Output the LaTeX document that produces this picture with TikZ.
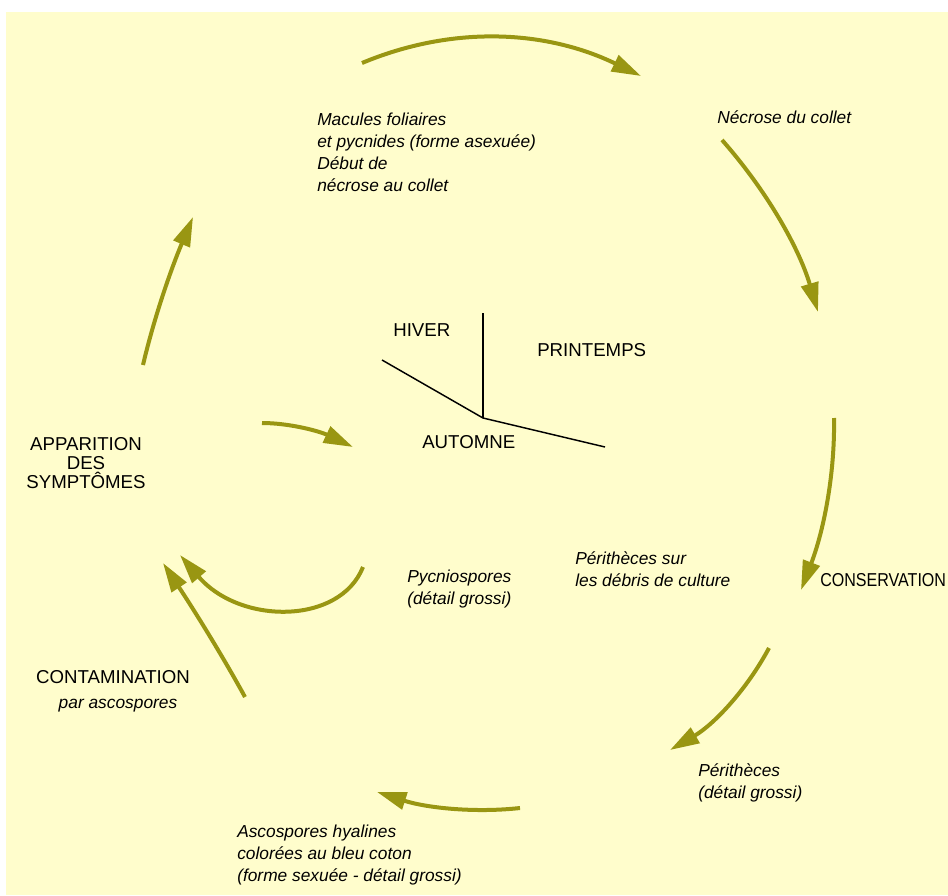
\documentclass[tikz,border=0pt]{standalone}
\usepackage{fontspec}
\usepackage{graphicx}
\setmainfont{Liberation Sans}
\usetikzlibrary{arrows.meta}
\definecolor{paper}{RGB}{255,253,204}
\definecolor{cycleolive}{RGB}{153,150,18}
\begin{document}
\begin{tikzpicture}[x=0.75pt,y=-0.75pt,
    cyc/.style={line width=3pt,draw=cycleolive,-{Triangle[length=22pt,width=13pt]}},
    phase/.style={inner sep=0,font=\fontsize{14}{14}\selectfont,align=center},
    note/.style={inner sep=0,font=\fontsize{13}{16.3}\selectfont\itshape,align=left}]
        \useasboundingbox (0,0) rectangle (948,895);
        \fill[white] (0,0) rectangle (948,895);
        \fill[paper] (6,12) rectangle (948,895);
        %% seasons
        \coordinate (centre) at (483,418);
        \draw[line width=1.1pt] (centre) -- (483,313);
        \draw[line width=1.1pt] (382,360) -- (centre) -- (605,447);
        \node[phase,anchor=base west] (hiver) at (393,336) {HIVER};
        \node[phase,anchor=base west] (printemps) at (537,356) {PRINTEMPS};
        \node[phase,anchor=base west] (automne) at (422,448) {AUTOMNE};
        %% stages (base = last line)
        \node[phase,anchor=base] (apparition) at (86,488) {APPARITION\\DES\\SYMPTÔMES};
        \node[phase,anchor=base] (contamination) at (113,683) {CONTAMINATION};
        \node[note,anchor=base] (parasco) at (118,708) {par ascospores};
        \node[phase,anchor=base west] (conservation) at (820,586) {\scalebox{0.86}[1]{CONSERVATION}};
        \node[note,anchor=base west] (macules) at (317,191) {Macules foliaires\\et pycnides (forme asexuée)\\Début de\\nécrose au collet};
        \node[note,anchor=base west] (necrose) at (717,123) {Nécrose du collet};
        \node[note,anchor=base west] (debris) at (575,586) {Périthèces sur\\les débris de culture};
        \node[note,anchor=base west] (pycnio) at (407,604) {Pycniospores\\(détail grossi)};
        \node[note,anchor=base west] (perith) at (698,798) {Périthèces\\(détail grossi)};
        \node[note,anchor=base west] (ascosp) at (237,881) {Ascospores hyalines\\colorées au bleu coton\\(forme sexuée - détail grossi)};
        %% cycle arrows
        \coordinate (a1s) at (362,63);  \coordinate (a1e) at (641,76);
        \coordinate (a2s) at (722,140); \coordinate (a2e) at (818,312);
        \coordinate (a3s) at (834,418); \coordinate (a3e) at (801,590);
        \coordinate (a4s) at (769,648); \coordinate (a4e) at (670,750);
        \coordinate (a5s) at (520,808); \coordinate (a5e) at (377,792);
        \coordinate (a6s) at (245,697); \coordinate (a6e) at (163,563);
        \coordinate (a7s) at (363,567); \coordinate (a7e) at (180,555);
        \coordinate (a8s) at (262,423); \coordinate (a8e) at (353,447);
        \coordinate (a9s) at (143,365); \coordinate (a9e) at (193,217);
        \draw[cyc] (a1s) .. controls (453,25) and (546,30) .. (a1e);
        \draw[cyc] (a2s) .. controls (767,191) and (799,248) .. (a2e);
        \draw[cyc] (a3s) .. controls (835,473) and (824,530) .. (a3e);
        \draw[cyc] (a4s) .. controls (746,691) and (713,725) .. (a4e);
        \draw[cyc] (a5s) .. controls (475,813) and (427,808) .. (a5e);
        \draw[cyc] (a6s) .. controls (222,655) and (194,610) .. (a6e);
        \draw[cyc] (a7s) .. controls (340,625) and (240,625) .. (a7e);
        \draw[cyc] (a8s) .. controls (289,423) and (319,431) .. (a8e);
        \draw[cyc] (a9s) .. controls (154,318) and (171,269) .. (a9e);
    \end{tikzpicture}
\end{document}
